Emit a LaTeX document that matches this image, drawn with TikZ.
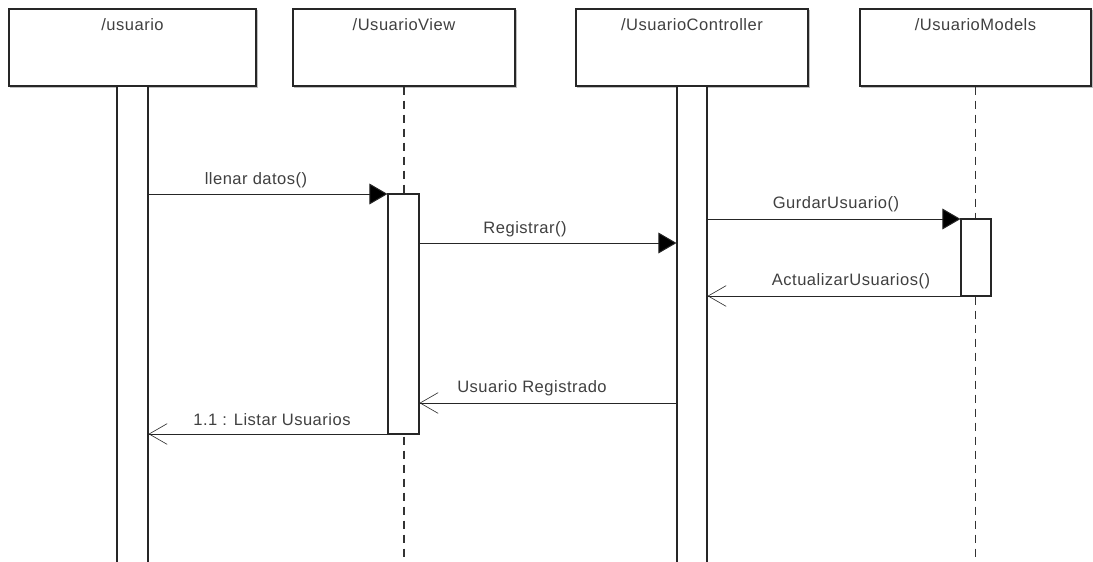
\documentclass[tikz,border=0pt]{standalone}
\usepackage{fontspec}
\setmainfont{Liberation Sans}[LetterSpace=3]
\usetikzlibrary{arrows.meta,fit}
\begin{document}
\begin{tikzpicture}[x=0.75pt,y=-0.75pt,
  objbox/.style={draw=black!85, line width=0.8pt, fill=white, inner sep=0pt},
  shadowbox/.style={draw=black!25, line width=1.2pt, inner sep=0pt},
  actbar/.style={draw=black!85, line width=0.8pt, fill=white, inner sep=0pt},
  lifeline/.style={draw=black!80, line width=0.8pt, dash pattern=on 6.5pt off 4pt},
  lbl/.style={font=\fontsize{12.4pt}{14pt}\selectfont, text=black!75, inner sep=0pt},
  callmsg/.style={draw=black!85, line width=0.75pt, -{Triangle[length=13.5pt,width=15.5pt,fill=black]}},
  retmsg/.style={draw=black!85, line width=0.75pt, -{Straight Barb[length=13.5pt,width=15.5pt,line width=0.45pt]}}
]
\useasboundingbox (0,0) rectangle (1093,561);
\fill[white] (0,0) rectangle (1093,561);

% shadows
\draw[shadowbox] (10.5,10.5) rectangle (257.5,87.5);
\draw[shadowbox] (294.5,10.5) rectangle (516.5,87.5);
\draw[shadowbox] (577.5,10.5) rectangle (809.5,87.5);
\draw[shadowbox] (861.5,10.5) rectangle (1092.5,87.5);

% object boxes
\node[objbox, fit={(9,9)(256,86)}] (uB) {};
\node[objbox, fit={(293,9)(515,86)}] (vB) {};
\node[objbox, fit={(576,9)(808,86)}] (cB) {};
\node[objbox, fit={(860,9)(1091,86)}] (mB) {};

\node[lbl] (uT) at (132.5,24.5) {/usuario};
\node[lbl] (vT) at (404,24.5) {/UsuarioView};
\node[lbl] (cT) at (692,24.5) {/UsuarioController};
\node[lbl] (mT) at (975.5,24.5) {/UsuarioModels};

% lifelines
\coordinate (vEnd) at (404,561);
\coordinate (mEnd) at (975.5,561);
\draw[lifeline] (vB.south) -- (vEnd);
\draw[lifeline] (mB.south) -- (mEnd);

% activation bars
\node[actbar, fit={(117,86)(148,566)}] (uA) {};
\node[actbar, fit={(677,86)(707,566)}] (cA) {};
\node[actbar, fit={(388,194)(419,434)}] (vA) {};
\node[actbar, fit={(961,219)(991,296)}] (mA) {};

% message levels
\coordinate (y1) at (0,194);
\coordinate (y2) at (0,243);
\coordinate (y3) at (0,219);
\coordinate (y4) at (0,296);
\coordinate (y5) at (0,403);
\coordinate (y6) at (0,434);

\draw[callmsg] (uA.east |- y1) -- (vA.west |- y1);
\node[lbl] (l1) at (256,180) {llenar datos()};

\draw[callmsg] (vA.east |- y2) -- (cA.west |- y2);
\node[lbl] (l2) at (525,229) {Registrar()};

\draw[callmsg] (cA.east |- y3) -- (mA.west |- y3);
\node[lbl] (l3) at (836,204) {GurdarUsuario()};

\draw[retmsg] (mA.west |- y4) -- (cA.east |- y4);
\node[lbl] (l4) at (851,281) {ActualizarUsuarios()};

\draw[retmsg] (cA.west |- y5) -- (vA.east |- y5);
\node[lbl] (l5) at (532,388.5) {Usuario Registrado};

\draw[retmsg] (vA.west |- y6) -- (uA.east |- y6);
\node[lbl] (l6) at (272,420) {1.1 : Listar Usuarios};
\end{tikzpicture}
\end{document}
